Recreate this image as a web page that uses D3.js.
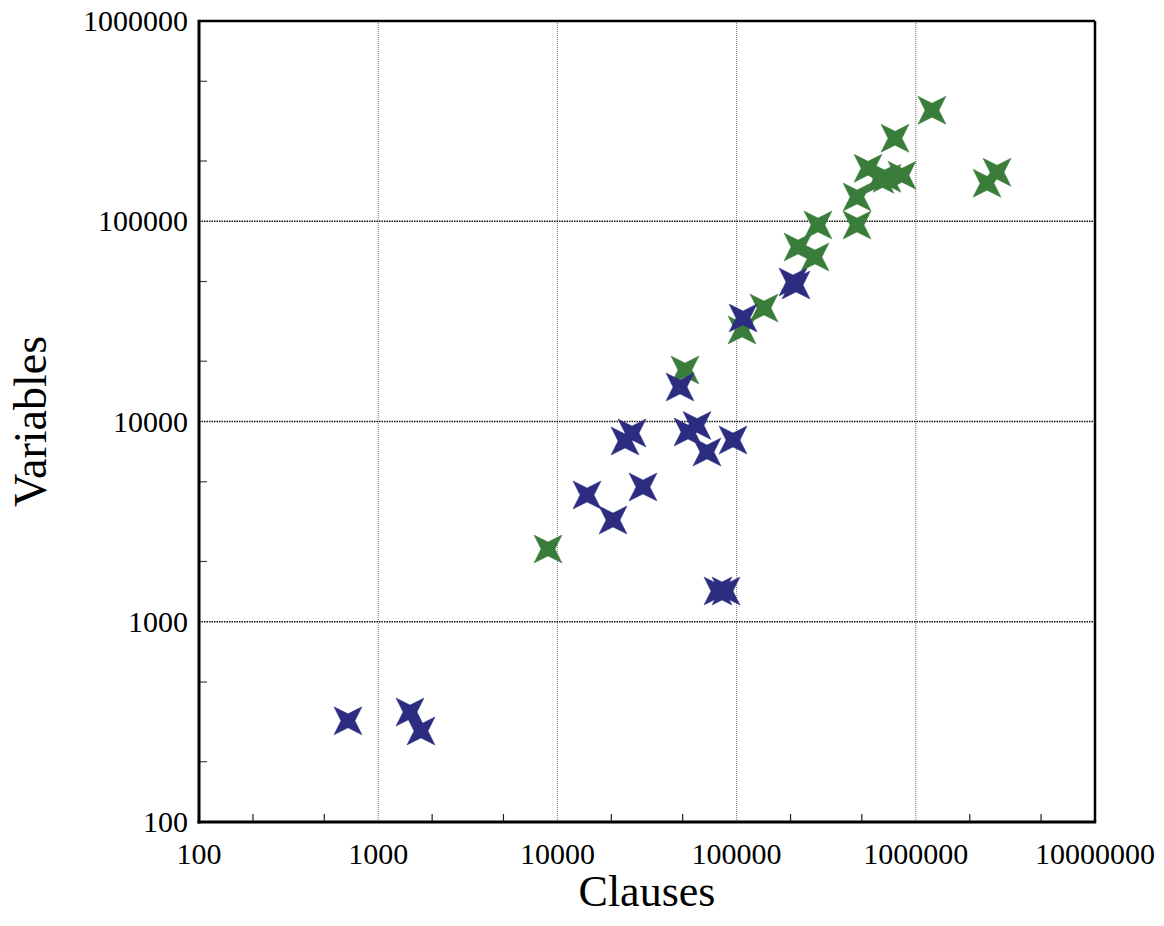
<!DOCTYPE html>
<html>
<head>
<meta charset="utf-8">
<script src="https://cdn.jsdelivr.net/npm/d3@7"></script>
<style>
  body { margin: 0; background: #fff; }
  text { font-family: "Liberation Serif", "Times New Roman", serif; fill: #000; }
</style>
</head>
<body>
<div id="chart"></div>
<script>
// clauses / variables per instance, two groups
var blueClauses = [678, 1505, 1733, 14630, 20430, 30040, 23840, 26080, 48330, 53560, 60120, 68350, 95480, 78710, 87270, 108600, 206400, 214600];
var blueVars    = [320, 354, 285, 4296, 3221, 4710, 7990, 8760, 14870, 8862, 9550, 7042, 8085, 1424, 1424, 32880, 49730, 48040];

var greenClauses = [8862, 51520, 107200, 142200, 220000, 273800, 284600, 469800, 469800, 541100, 690800, 631200, 837500, 765600, 1231000, 2496000, 2839000];
var greenVars    = [2309, 18080, 28640, 36880, 74360, 66290, 95790, 132200, 95790, 183900, 163900, 162000, 169700, 259700, 358400, 154800, 175700];

var xTicks = [100, 1000, 10000, 100000, 1000000, 10000000];
var yTicks = [100, 1000, 10000, 100000, 1000000];

var W = 1164, H = 926;
var margin = {top: 21, right: 69, bottom: 104, left: 199};
var width = W - margin.left - margin.right,
    height = H - margin.top - margin.bottom;

var svg = d3.select("#chart").append("svg")
    .attr("width", W)
    .attr("height", H);

var g = svg.append("g")
    .attr("transform", "translate(" + margin.left + "," + margin.top + ")");

var x = d3.scaleLog().domain([100, 10000000]).range([0, width]);
var y = d3.scaleLog().domain([100, 1000000]).range([height, 0]);

// minor ticks at 2 and 5 of each decade
function minors(dom) {
  var out = [];
  for (var d = dom[0]; d < dom[1]; d *= 10) { out.push(d * 2); out.push(d * 5); }
  return out;
}

// grid lines
g.selectAll(".vgrid")
  .data(xTicks.slice(1, -1))
  .enter().append("line")
    .attr("x1", d => x(d)).attr("x2", d => x(d))
    .attr("y1", 0).attr("y2", height)
    .style("stroke", "#777")
    .style("stroke-width", 1)
    .style("stroke-dasharray", "1,1");

g.selectAll(".hgrid")
  .data(yTicks.slice(1, -1))
  .enter().append("line")
    .attr("x1", 0).attr("x2", width)
    .attr("y1", d => y(d)).attr("y2", d => y(d))
    .style("stroke", "#111")
    .style("stroke-width", 1.4)
    .style("stroke-dasharray", "1.5,1");

// minor ticks, pointing inward
g.selectAll(".xminor")
  .data(minors(x.domain()))
  .enter().append("line")
    .attr("x1", d => x(d)).attr("x2", d => x(d))
    .attr("y1", height).attr("y2", height - 8)
    .style("stroke", "#222").style("stroke-width", 1.2);

g.selectAll(".yminor")
  .data(minors(y.domain()))
  .enter().append("line")
    .attr("x1", 0).attr("x2", 8)
    .attr("y1", d => y(d)).attr("y2", d => y(d))
    .style("stroke", "#444").style("stroke-width", 1.2);

// star marker, tips on the diagonals
var R = 14, r = 7;
var star = "M" + R + "," + R + "L0," + r + "L" + (-R) + "," + R + "L" + (-r) + ",0L" + (-R) + "," + (-R) +
           "L0," + (-r) + "L" + R + "," + (-R) + "L" + r + ",0Z";

function drawSeries(xs, ys, color) {
  g.append("g").selectAll("path")
    .data(xs.map((v, i) => ({x: v, y: ys[i]})))
    .enter().append("path")
      .attr("d", star)
      .attr("transform", d => "translate(" + x(d.x) + "," + y(d.y) + ")")
      .style("fill", color)
      .style("stroke", color)
      .style("stroke-width", 0.5)
      .style("stroke-linejoin", "miter");
}

drawSeries(greenClauses, greenVars, "#3a7d3a");
drawSeries(blueClauses, blueVars, "#2c2d80");

// frame
g.append("line").attr("x1", 0).attr("x2", width).attr("y1", 0).attr("y2", 0)
  .style("stroke", "#000").style("stroke-width", 2.5);
g.append("line").attr("x1", width).attr("x2", width).attr("y1", 0).attr("y2", height)
  .style("stroke", "#000").style("stroke-width", 2.5);
g.append("line").attr("x1", -1.5).attr("x2", width + 1.2).attr("y1", height).attr("y2", height)
  .style("stroke", "#000").style("stroke-width", 3);
g.append("line").attr("x1", 0).attr("x2", 0).attr("y1", -1.2).attr("y2", height + 1.5)
  .style("stroke", "#000").style("stroke-width", 3);

// tick labels
var fmt = d3.format("d");
g.selectAll(".xlab")
  .data(xTicks)
  .enter().append("text")
    .attr("x", d => x(d))
    .attr("y", height + 42)
    .attr("text-anchor", "middle")
    .style("font-size", "30px")
    .text(d => fmt(d));

g.selectAll(".ylab")
  .data(yTicks)
  .enter().append("text")
    .attr("x", -11)
    .attr("y", d => y(d))
    .attr("dy", "0.34em")
    .attr("text-anchor", "end")
    .style("font-size", "30px")
    .text(d => fmt(d));

// axis titles
svg.append("text")
  .attr("x", margin.left + width / 2)
  .attr("y", 906)
  .attr("text-anchor", "middle")
  .style("font-size", "44px")
  .text("Clauses");

svg.append("text")
  .attr("transform", "translate(46," + (margin.top + height / 2) + ") rotate(-90)")
  .attr("text-anchor", "middle")
  .style("font-size", "46px")
  .text("Variables");
</script>
</body>
</html>
